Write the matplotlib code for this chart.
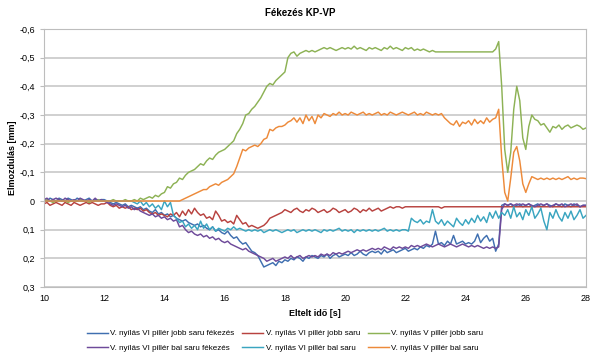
import numpy as np
import matplotlib
matplotlib.use('Agg')
import matplotlib.pyplot as plt
from matplotlib.ticker import FuncFormatter

plt.rcParams['font.family'] = ['Liberation Sans', 'DejaVu Sans']

# time axis, 0.1 s steps from 10 s to 28 s
t = np.round(np.arange(10.0, 28.05, 0.1), 1)

# V. nyílás VI pillér jobb saru fékezés
vi_jobb_fek = [
    -0.005, 0, -0.01, -0.005, 0, -0.01, -0.005, 0, -0.01, -0.005,
    0, -0.01, -0.005, 0, -0.005, -0.01, 0, -0.005, 0, -0.005,
    -0.005, 0, 0.005, 0.01, 0.005, 0.01, 0.015, 0.01, 0.02, 0.015,
    0.02, 0.025, 0.02, 0.03, 0.025, 0.035, 0.04, 0.03, 0.045, 0.04,
    0.05, 0.045, 0.055, 0.05, 0.06, 0.065, 0.07, 0.065, 0.075, 0.08,
    0.085, 0.08, 0.09, 0.085, 0.095, 0.1, 0.09, 0.105, 0.1, 0.11,
    0.115, 0.105, 0.12, 0.13, 0.125, 0.14, 0.15, 0.145, 0.16, 0.175,
    0.18, 0.19, 0.21, 0.23, 0.225, 0.22, 0.215, 0.225, 0.21, 0.215,
    0.205, 0.21, 0.2, 0.205, 0.195, 0.2, 0.21, 0.195, 0.2, 0.19,
    0.195, 0.2, 0.19, 0.195, 0.185, 0.2, 0.19, 0.185, 0.195, 0.19,
    0.185, 0.19, 0.18, 0.19, 0.185, 0.175, 0.185, 0.19, 0.18, 0.175,
    0.18, 0.175, 0.185, 0.17, 0.18, 0.175, 0.17, 0.18, 0.175, 0.17,
    0.165, 0.175, 0.17, 0.165, 0.17, 0.16, 0.165, 0.155, 0.16, 0.15,
    0.105, 0.15, 0.145, 0.155, 0.14, 0.15, 0.12, 0.15, 0.145, 0.14,
    0.15, 0.145, 0.15, 0.14, 0.115, 0.145, 0.13, 0.12, 0.14, 0.13,
    0.175, 0.15, 0.015, 0.01, 0.015, 0.01, 0.02, 0.015, 0.01, 0.02,
    0.015, 0.01, 0.02, 0.015, 0.01, 0.02, 0.015, 0.01, 0.015, 0.02,
    0.01, 0.015, 0.02, 0.01, 0.015, 0.02, 0.01, 0.015, 0.02, 0.015,
    0.015]

# V. nyílás VI pillér jobb saru
vi_jobb = [
    0.01, 0.005, 0.015, 0.01, 0.005, 0.01, 0.015, 0.005, 0.01, 0.015,
    0.005, 0.01, 0.015, 0.01, 0.005, 0.01, 0.005, 0.01, 0.015, 0.01,
    0.01, 0.005, 0.015, 0.02, 0.015, 0.025, 0.02, 0.025, 0.02, 0.03,
    0.025, 0.03, 0.025, 0.035, 0.03, 0.04, 0.045, 0.04, 0.05, 0.045,
    0.05, 0.055, 0.045, 0.05, 0.04, 0.055, 0.035, 0.05, 0.03, 0.045,
    0.025, 0.04, 0.05, 0.045, 0.06, 0.055, 0.065, 0.035, 0.05, 0.07,
    0.065, 0.075, 0.07, 0.08, 0.05, 0.065, 0.08, 0.075, 0.09, 0.085,
    0.09, 0.095, 0.09, 0.085, 0.075, 0.06, 0.055, 0.05, 0.045, 0.04,
    0.03, 0.035, 0.04, 0.03, 0.025, 0.035, 0.04, 0.03, 0.035, 0.025,
    0.03, 0.04, 0.035, 0.03, 0.04, 0.035, 0.025, 0.03, 0.04, 0.035,
    0.03, 0.04, 0.035, 0.025, 0.03, 0.04, 0.03, 0.035, 0.025, 0.035,
    0.03, 0.025, 0.035, 0.03, 0.025, 0.02, 0.025, 0.02, 0.02, 0.025,
    0.02, 0.02, 0.02, 0.02, 0.02, 0.02, 0.02, 0.02, 0.02, 0.02,
    0.02, 0.02, 0.025, 0.02, 0.02, 0.02, 0.02, 0.02, 0.02, 0.02,
    0.02, 0.02, 0.02, 0.02, 0.02, 0.02, 0.02, 0.02, 0.02, 0.02,
    0.02, 0.02, 0.02, 0.02, 0.02, 0.02, 0.02, 0.02, 0.02, 0.02,
    0.02, 0.02, 0.02, 0.02, 0.02, 0.02, 0.02, 0.02, 0.02, 0.02,
    0.02, 0.02, 0.02, 0.02, 0.02, 0.02, 0.02, 0.02, 0.02, 0.02,
    0.02]

# V. nyílás V pillér jobb saru
v_jobb = [
    0, -0.005, 0, 0.005, 0, -0.005, 0, 0, 0.005, 0,
    0, 0, -0.005, 0, 0, 0.005, 0, 0, -0.005, 0,
    0, 0, 0, -0.005, 0, 0, 0, -0.005, 0, 0,
    -0.005, 0, -0.01, -0.005, -0.01, -0.015, -0.01, -0.02, -0.015, -0.025,
    -0.03, -0.05, -0.045, -0.06, -0.065, -0.08, -0.075, -0.09, -0.1, -0.105,
    -0.11, -0.12, -0.13, -0.125, -0.14, -0.15, -0.145, -0.16, -0.17, -0.175,
    -0.18, -0.19, -0.2, -0.21, -0.235, -0.25, -0.27, -0.3, -0.305, -0.32,
    -0.33, -0.345, -0.36, -0.38, -0.4, -0.41, -0.405, -0.42, -0.43, -0.44,
    -0.45, -0.5, -0.515, -0.52, -0.505, -0.515, -0.52, -0.525, -0.52, -0.525,
    -0.52, -0.525, -0.53, -0.535, -0.53, -0.535, -0.53, -0.525, -0.53, -0.535,
    -0.53, -0.535, -0.53, -0.54, -0.53, -0.535, -0.53, -0.525, -0.535, -0.53,
    -0.535, -0.53, -0.525, -0.535, -0.53, -0.54, -0.53, -0.535, -0.53, -0.525,
    -0.535, -0.53, -0.535, -0.525, -0.53, -0.525, -0.53, -0.525, -0.52, -0.525,
    -0.52, -0.52, -0.52, -0.52, -0.52, -0.52, -0.52, -0.52, -0.52, -0.52,
    -0.52, -0.52, -0.52, -0.52, -0.52, -0.52, -0.52, -0.52, -0.52, -0.52,
    -0.53, -0.556, -0.4, -0.18, -0.1, -0.17, -0.32, -0.4, -0.35, -0.22,
    -0.18, -0.26, -0.3, -0.285, -0.28, -0.265, -0.27, -0.255, -0.24, -0.26,
    -0.255, -0.265, -0.25, -0.26, -0.265, -0.255, -0.26, -0.265, -0.26, -0.25,
    -0.255]

# V. nyílás VI pillér bal saru fékezés
vi_bal_fek = [
    -0.005, -0.01, 0, -0.005, -0.01, -0.005, 0, -0.01, -0.005, 0,
    -0.005, 0, -0.01, -0.005, 0, -0.005, 0, -0.01, 0, -0.005,
    0, 0.005, 0.01, 0.015, 0.01, 0.015, 0.02, 0.015, 0.025, 0.02,
    0.03, 0.025, 0.035, 0.04, 0.045, 0.05, 0.045, 0.055, 0.05, 0.06,
    0.055, 0.065, 0.06, 0.07, 0.065, 0.09, 0.085, 0.1, 0.11, 0.105,
    0.115, 0.12, 0.115, 0.125, 0.12, 0.13, 0.125, 0.135, 0.13, 0.14,
    0.145, 0.14, 0.15, 0.155, 0.16, 0.165, 0.17, 0.165, 0.175, 0.18,
    0.185, 0.19, 0.195, 0.2, 0.21, 0.205, 0.2, 0.21, 0.205, 0.2,
    0.195, 0.2, 0.19, 0.2, 0.195, 0.19, 0.2, 0.195, 0.19, 0.195,
    0.19, 0.195, 0.185, 0.19, 0.185, 0.19, 0.18, 0.185, 0.18, 0.185,
    0.18, 0.175, 0.18, 0.175, 0.17, 0.175, 0.17, 0.175, 0.17, 0.165,
    0.17, 0.165, 0.17, 0.16, 0.165, 0.17, 0.16, 0.165, 0.16, 0.165,
    0.16, 0.165, 0.155, 0.16, 0.155, 0.16, 0.155, 0.15, 0.155, 0.16,
    0.155, 0.15, 0.155, 0.16, 0.155, 0.15, 0.155, 0.16, 0.155, 0.15,
    0.155, 0.16, 0.155, 0.16, 0.155, 0.16, 0.165, 0.16, 0.165, 0.16,
    0.165, 0.16, 0.03, 0.01, 0.015, 0.01, 0.015, 0.01, 0.015, 0.01,
    0.015, 0.01, 0.015, 0.02, 0.015, 0.01, 0.015, 0.01, 0.02, 0.015,
    0.01, 0.015, 0.01, 0.02, 0.015, 0.01, 0.015, 0.01, 0.02, 0.015,
    0.015]

# V. nyílás VI pillér bal saru
vi_bal = [
    0, 0, 0, 0, 0, 0, 0, 0, 0, 0,
    0, 0, 0, 0, 0, 0, 0, 0, 0, 0,
    0, 0, 0, 0, 0, 0, 0, 0, 0, 0,
    0.005, 0.01, 0.0, 0.015, 0.005, 0.02, 0.01, 0.025, 0.015, 0.03,
    0.0, 0.02, 0.005, 0.05, 0.06, 0.075, 0.07, 0.09, 0.08, 0.095,
    0.085, 0.1, 0.07, 0.095, 0.08, 0.1, 0.09, 0.105, 0.095, 0.1,
    0.105, 0.095, 0.1, 0.09, 0.1, 0.095, 0.1, 0.105, 0.1, 0.105,
    0.1, 0.105, 0.1, 0.11, 0.105, 0.1, 0.105, 0.1, 0.105, 0.11,
    0.105, 0.1, 0.105, 0.1, 0.11, 0.105, 0.1, 0.105, 0.1, 0.105,
    0.1, 0.105, 0.11, 0.1, 0.105, 0.1, 0.105, 0.1, 0.095, 0.105,
    0.1, 0.105, 0.1, 0.11, 0.1, 0.105, 0.1, 0.105, 0.1, 0.105,
    0.1, 0.105, 0.1, 0.095, 0.105, 0.1, 0.105, 0.1, 0.105, 0.1,
    0.1, 0.105, 0.06, 0.07, 0.075, 0.065, 0.08, 0.07, 0.075, 0.03,
    0.07, 0.08, 0.065, 0.085, 0.07, 0.08, 0.09, 0.06, 0.075, 0.085,
    0.065, 0.08, 0.06, 0.075, 0.05, 0.07, 0.055, 0.075, 0.04, 0.06,
    0.035, 0.06, 0.04, 0.05, 0.03, 0.06, 0.02, 0.055, 0.04, 0.065,
    0.03, 0.05, 0.02, 0.06, 0.045, 0.025, 0.07, 0.1, 0.04, 0.06,
    0.03, 0.055, 0.07, 0.04, 0.06, 0.035, 0.065, 0.05, 0.03, 0.06,
    0.05]

# V. nyílás V pillér bal saru
v_bal = [
    0, 0, 0, 0, 0, 0, 0, 0, 0, 0,
    0, 0, 0, 0, 0, 0, 0, 0, 0, 0,
    0, 0, 0, 0, 0, 0, 0, 0, 0, 0,
    0, 0, 0, 0, 0, 0, 0, 0, 0, 0,
    0, 0, 0, 0, 0, 0, -0.005, -0.01, -0.015, -0.02,
    -0.025, -0.03, -0.035, -0.04, -0.04, -0.05, -0.055, -0.06, -0.055, -0.065,
    -0.07, -0.075, -0.085, -0.095, -0.12, -0.15, -0.18, -0.175, -0.185, -0.19,
    -0.195, -0.19, -0.2, -0.215, -0.22, -0.25, -0.245, -0.255, -0.26, -0.26,
    -0.265, -0.275, -0.28, -0.29, -0.275, -0.29, -0.27, -0.3, -0.28, -0.295,
    -0.27, -0.3, -0.29, -0.305, -0.3, -0.295, -0.305, -0.3, -0.31, -0.3,
    -0.305, -0.3, -0.31, -0.305, -0.3, -0.305, -0.31, -0.3, -0.305, -0.3,
    -0.305, -0.31, -0.3, -0.305, -0.3, -0.31, -0.305, -0.3, -0.305, -0.31,
    -0.305, -0.3, -0.305, -0.31, -0.3, -0.305, -0.3, -0.31, -0.305, -0.3,
    -0.305, -0.3, -0.305, -0.29, -0.28, -0.27, -0.265, -0.28, -0.26, -0.275,
    -0.27, -0.28, -0.265, -0.285, -0.27, -0.28, -0.27, -0.29, -0.275, -0.285,
    -0.29, -0.32, -0.15, -0.03, 0.0, -0.08, -0.17, -0.19, -0.14, -0.06,
    -0.03, -0.06, -0.085, -0.08, -0.075, -0.08, -0.075, -0.08, -0.075, -0.08,
    -0.075, -0.08, -0.075, -0.08, -0.085, -0.075, -0.08, -0.075, -0.08, -0.08,
    -0.078]

labels = ['V. nyílás VI pillér jobb saru fékezés', 'V. nyílás VI pillér jobb saru',
          'V. nyílás V pillér jobb saru', 'V. nyílás VI pillér bal saru fékezés',
          'V. nyílás VI pillér bal saru', 'V. nyílás V pillér bal saru']
series = [vi_jobb_fek, vi_jobb, v_jobb, vi_bal_fek, vi_bal, v_bal]
colors = ['#3F6FB0', '#B8423F', '#8DB255', '#6E4A9A', '#3AA5C0', '#ED8A3A']


def comma_fmt(v, pos):
    if abs(v) < 1e-9:
        return '0'
    return f'{v:.1f}'.replace('.', ',')


fig = plt.figure(figsize=(6.0, 3.62), dpi=100)
ax = fig.add_axes([0.0733, 0.207, 0.9034, 0.713])

lines = []
for y, c, lab in zip(series, colors, labels):
    ln, = ax.plot(t, y, color=c, lw=1.05, label=lab)
    lines.append(ln)

ax.set_xlim(10, 28)
ax.set_ylim(0.3, -0.6)
ax.set_xticks(np.arange(10, 29, 2))
ax.set_yticks(np.arange(-0.6, 0.31, 0.1))
ax.yaxis.set_major_formatter(FuncFormatter(comma_fmt))
ax.grid(axis='y', color='#C8C8C8', lw=1.2)
ax.set_axisbelow(True)
for s in ax.spines.values():
    s.set_color('#BDBDBD')
ax.tick_params(axis='both', labelsize=6.5, colors='#BDBDBD', labelcolor='black', length=3)
ax.tick_params(axis='x', length=0, pad=5)

ax.set_xlabel('Eltelt idő [s]', fontsize=6.5, fontweight='bold', labelpad=4)
ax.set_ylabel('Elmozdulás [mm]', fontsize=6.5, fontweight='bold', labelpad=2)
fig.text(0.5, 0.965, 'Fékezés KP-VP', ha='center', va='center', fontsize=7, fontweight='bold')

# legend filled row by row like the original
order = [0, 3, 1, 4, 2, 5]
fig.legend([lines[i] for i in order], [labels[i] for i in order], ncol=3,
           loc='center', bbox_to_anchor=(0.475, 0.058), fontsize=5.8, frameon=False,
           handlelength=2.6, columnspacing=1.0, handletextpad=0.3, labelspacing=0.9)

fig.savefig('out.png', dpi=100)
